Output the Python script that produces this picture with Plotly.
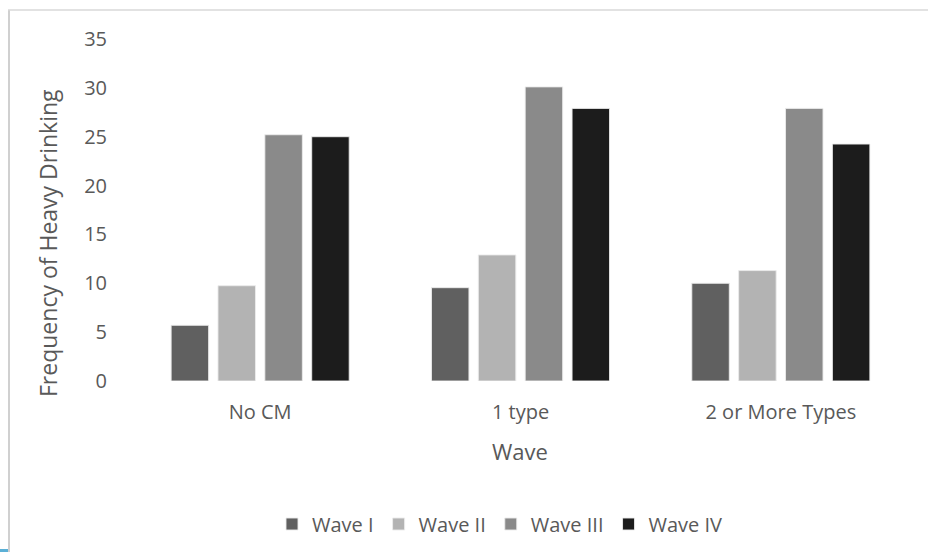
import plotly.graph_objects as go

categories = ["No CM", "1 type", "2 or More Types"]
series_names = ["Wave I", "Wave II", "Wave III", "Wave IV"]
wave1 = [5.7, 9.55, 10.0]
wave2 = [9.75, 12.9, 11.3]
wave3 = [25.2, 30.1, 27.9]
wave4 = [25.0, 27.9, 24.25]
colors = ["#606060", "#b3b3b3", "#8a8a8a", "#1c1c1c"]
y_ticks = [0, 5, 10, 15, 20, 25, 30, 35]
x_title = "Wave"
y_title = "Frequency of Heavy Drinking"

FONT = "Open Sans"
TXT = "#595959"

fig = go.Figure()
for name, vals, col in zip(series_names, [wave1, wave2, wave3, wave4], colors):
    fig.add_trace(go.Bar(
        x=categories, y=vals, name=name,
        marker=dict(color=col, line=dict(color="rgba(235,235,235,0.9)", width=1)),
    ))

W, H = 928, 552
L, R, T, B = 130, 17, 39, 171
pw = W - L - R
ph = H - T - B

def px_to_paper_x(x):
    return (x - L) / pw

def px_to_paper_y(y):
    return (H - B - y) / ph

shapes = [
    dict(type="line", xref="paper", yref="paper",
         x0=px_to_paper_x(9), x1=px_to_paper_x(9),
         y0=px_to_paper_y(10), y1=px_to_paper_y(560),
         line=dict(color="#d0d0d0", width=2)),
    dict(type="line", xref="paper", yref="paper",
         x0=px_to_paper_x(8), x1=px_to_paper_x(940),
         y0=px_to_paper_y(10), y1=px_to_paper_y(10),
         line=dict(color="#d9d9d9", width=1.5)),
    dict(type="rect", xref="paper", yref="paper",
         x0=px_to_paper_x(0), x1=px_to_paper_x(8),
         y0=px_to_paper_y(549), y1=px_to_paper_y(553),
         line=dict(width=0), fillcolor="#5bb0d6"),
]

annotations = [
    dict(text=x_title, xref="paper", yref="paper",
         x=px_to_paper_x(520), y=px_to_paper_y(451),
         xanchor="center", yanchor="middle", showarrow=False,
         font=dict(size=22, color=TXT, family=FONT)),
    dict(text=y_title, xref="paper", yref="paper", textangle=-90,
         x=px_to_paper_x(48), y=px_to_paper_y(243),
         xanchor="center", yanchor="middle", showarrow=False,
         font=dict(size=23, color=TXT, family=FONT)),
]

fig.update_layout(
    width=W, height=H,
    margin=dict(l=L, r=R, t=T, b=B, autoexpand=False),
    paper_bgcolor="white", plot_bgcolor="white",
    barmode="group", bargap=0.28, bargroupgap=0.2,
    font=dict(family=FONT, color=TXT, size=20),
    showlegend=True,
    legend=dict(orientation="h", x=500 / W, xanchor="center",
                xref="container", yref="container",
                y=28 / H, yanchor="middle",
                font=dict(size=20, color=TXT), itemwidth=30,
                traceorder="normal"),
    shapes=shapes,
    annotations=annotations,
)
fig.update_xaxes(
    showline=False, showgrid=False, ticks="", tickfont=dict(size=20, color=TXT),
    ticklabelstandoff=17,
)
fig.update_yaxes(
    range=[0, 35], tickvals=y_ticks, showgrid=False, zeroline=False, showline=False,
    ticks="", tickfont=dict(size=20, color=TXT), ticklabelstandoff=22,
)

fig.write_html("out.html")
